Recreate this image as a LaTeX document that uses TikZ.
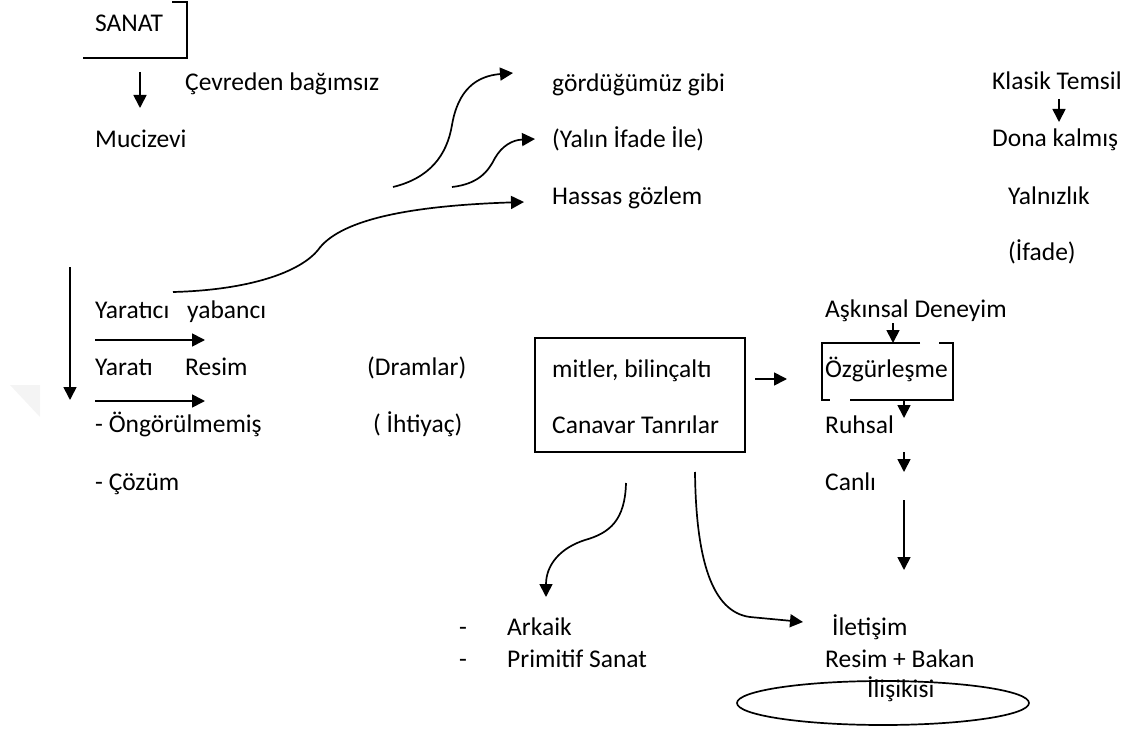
\documentclass[tikz,border=0pt]{standalone}
\usepackage{fontspec}
\setmainfont{Carlito}
\usetikzlibrary{arrows.meta,shapes.geometric}
\begin{document}
\begin{tikzpicture}[x=1pt,y=-1pt,
  lbl/.style={anchor=base west, inner sep=0pt, font=\fontsize{25.5}{30}\selectfont},
  ln/.style={line width=1.7pt},
  arr/.style={line width=1.7pt, -{Triangle[length=13pt,width=13pt]}}]
\useasboundingbox (0,0) rectangle (1138,738);

% faint corner mark at the left edge
\fill[gray!9] (10,385) -- (40,385) -- (40,417) -- cycle;

% ---- left column ----
\node[lbl] (sanat) at (95,32) {SANAT};
\draw[ln] (172,2) -- (187,2) -- (187,58) -- (83,58);
\node[lbl] (cevre) at (185,91) {Çevreden bağımsız};
\node[lbl] (muc) at (95,148) {Mucizevi};
\coordinate (s1) at (140,72);
\coordinate (s2) at (140,108);
\draw[arr] (s1) -- (s2);

\node[lbl] (yaratici) at (95,318) {Yaratıcı};
\node[lbl] (yabanci) at (187,318) {yabancı};
\node[lbl] (yarati) at (95,375) {Yaratı};
\node[lbl] (resim) at (185,375) {Resim};
\node[lbl] (dram) at (367,375) {(Dramlar)};
\node[lbl] (ongor) at (95,432) {- Öngörülmemiş};
\node[lbl] (ihti) at (373,432) {( İhtiyaç)};
\node[lbl] (cozum) at (95,490) {- Çözüm};

\coordinate (v1) at (70,267);
\coordinate (v2) at (70,400);
\draw[arr] (v1) -- (v2);
\coordinate (h1a) at (95,340);
\coordinate (h1b) at (205,340);
\draw[arr] (h1a) -- (h1b);
\coordinate (h2a) at (95,401);
\coordinate (h2b) at (205,401);
\draw[arr] (h2a) -- (h2b);

% ---- upper middle ----
\node[lbl] (gord) at (552,92) {gördüğümüz gibi};
\node[lbl] (yalin) at (552,148) {(Yalın İfade İle)};
\node[lbl] (hassas) at (552,205) {Hassas gözlem};

\coordinate (c1a) at (393,187);
\coordinate (c1b) at (513,73);
\draw[arr] (c1a) .. controls (430,178) and (447,155) .. (452,125)
                 .. controls (458,90) and (476,76) .. (c1b);
\coordinate (c2a) at (452,187);
\coordinate (c2b) at (535,139);
\draw[arr] (c2a) .. controls (478,184) and (488,172) .. (495,158)
                 .. controls (502,146) and (512,140) .. (c2b);
\coordinate (c3a) at (173,292);
\coordinate (c3b) at (524,202);
\draw[arr] (c3a) .. controls (250,290) and (300,272) .. (318,250)
                 .. controls (338,222) and (400,206) .. (c3b);

% ---- right column, top ----
\node[lbl] (klasik) at (992,90) {Klasik Temsil};
\node[lbl] (dona) at (992,147) {Dona kalmış};
\node[lbl] (yalniz) at (1008,205) {Yalnızlık};
\node[lbl] (ifade) at (1008,261) {(İfade)};
\coordinate (k1) at (1059,99);
\coordinate (k2) at (1059,122);
\draw[arr] (k1) -- (k2);

% ---- myths box ----
\node[draw, ln, minimum width=210pt, minimum height=114pt, inner sep=0pt] (mythbox) at (640,395) {};
\node[lbl] (mitler) at (552,377) {mitler, bilinçaltı};
\node[lbl] (canavar) at (552,433) {Canavar Tanrılar};
\coordinate (m1) at (755,379);
\coordinate (m2) at (787,379);
\draw[arr] (m1) -- (m2);

% ---- right column, bottom ----
\node[lbl] (askin) at (825,317) {Aşkınsal Deneyim};
\node[lbl] (ozgur) at (825,377) {Özgürleşme};
\node[lbl] (ruhsal) at (825,433) {Ruhsal};
\node[lbl] (canli) at (825,490) {Canlı};
\draw[ln] (920,343) -- (822,343) -- (822,400) -- (830,400);
\draw[ln] (939,343) -- (953,343) -- (953,400) -- (850,400);
\coordinate (a1) at (893,323);
\coordinate (a2) at (893,343);
\draw[arr] (a1) -- (a2);
\coordinate (r1) at (904,400);
\coordinate (r2) at (904,418);
\draw[arr] (r1) -- (r2);
\coordinate (r3) at (904,452);
\coordinate (r4) at (904,472);
\draw[arr] (r3) -- (r4);
\coordinate (r5) at (904,500);
\coordinate (r6) at (904,570);
\draw[arr] (r5) -- (r6);

% ---- bottom ----
\node[lbl] (dash1) at (459,635) {-};
\node[lbl] (arkaik) at (507,635) {Arkaik};
\node[lbl] (dash2) at (459,667) {-};
\node[lbl] (primitif) at (507,667) {Primitif Sanat};
\coordinate (d1) at (626,483);
\coordinate (d2) at (546,597);
\draw[arr] (d1) .. controls (625,520) and (610,533) .. (585,540)
               .. controls (560,548) and (546,565) .. (d2);
\coordinate (e1) at (695,472);
\coordinate (e2) at (803,622);
\draw[arr] (e1) .. controls (696,560) and (712,612) .. (750,617) -- (e2);

\node[lbl] (iletisim) at (832,635) {İletişim};
\node[lbl] (bakan) at (825,667) {Resim + Bakan};
\node[lbl] (iliski) at (867,697) {İlişikisi};
\node[draw, ln, ellipse, minimum width=292pt, minimum height=44pt, inner sep=0pt] (oval) at (883,703) {};
\end{tikzpicture}
\end{document}
